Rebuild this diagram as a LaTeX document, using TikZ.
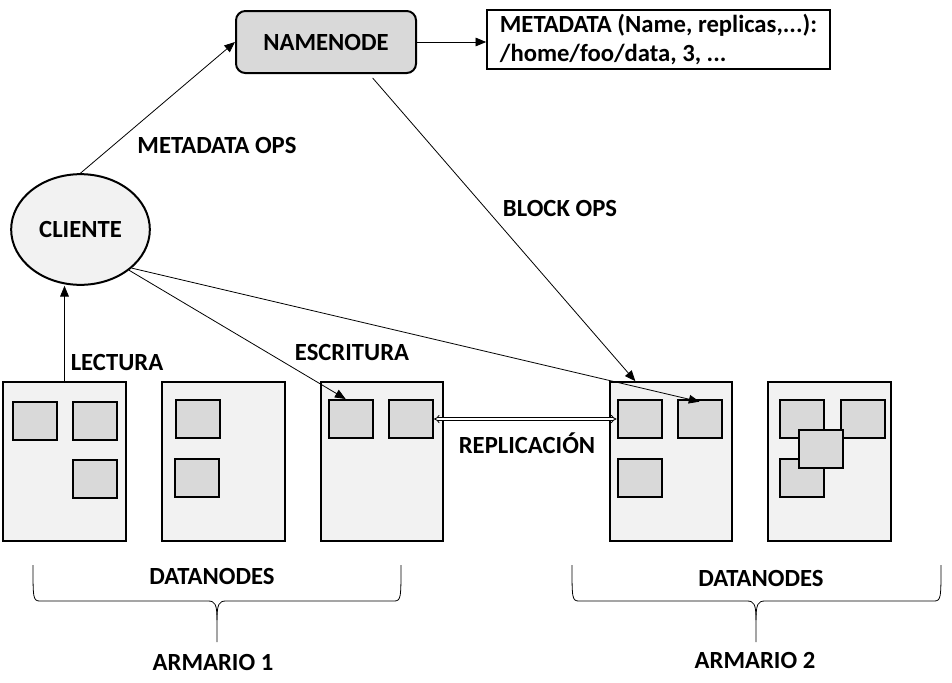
\documentclass[tikz,border=0pt]{standalone}
\usepackage{fontspec}
\setmainfont{Carlito}
\usetikzlibrary{shapes.geometric,arrows.meta}
\definecolor{grisclair}{HTML}{F2F2F2}
\definecolor{grisfonce}{HTML}{D9D9D9}
\frenchspacing
\begin{document}
\begin{tikzpicture}[x=0.75pt,y=-0.75pt,font=\fontsize{18.5}{21.75}\selectfont\bfseries]
		\tikzstyle{fleche}=[-{Triangle[length=8pt,width=6.5pt]},line width=0.6pt]
		\tikzstyle{datanode}=[draw,line width=1.5pt,fill=grisclair,minimum width=92pt,minimum height=119pt]
		\tikzstyle{bloc}=[draw,line width=1.5pt,fill=grisfonce,minimum width=33pt,minimum height=28.5pt]
		\useasboundingbox (0,0) rectangle (952,682);
		\node[draw,line width=1.5pt,rounded corners=7pt,fill=grisfonce,minimum width=135pt,minimum height=46.5pt] (namenode) at (326,42) {NAMENODE};
		\node[draw,line width=1.5pt,minimum width=257pt,minimum height=42.75pt,align=left] (meta) at (658.5,39.5) {METADATA (Name, replicas,...):\\/home/foo/data, 3, ...};
		\node[ellipse,draw,line width=1.5pt,fill=grisclair,minimum width=104pt,minimum height=83pt] (cliente) at (80.5,229.5) {CLIENTE};
		% armario 1
		\node[datanode] (dn1) at (64.5,461.5) {};
		\node[datanode] (dn2) at (223.5,461.5) {};
		\node[datanode] (dn3) at (382,461.5) {};
		% armario 2
		\node[datanode] (dn4) at (671,461.5) {};
		\node[datanode] (dn5) at (829.5,461.5) {};
		% bloques
		\node[bloc] (b11) at (35,421) {};
		\node[bloc] (b12) at (95,421) {};
		\node[bloc] (b13) at (94.5,479) {};
		\node[bloc] (b21) at (198,419) {};
		\node[bloc] (b22) at (197,477.5) {};
		\node[bloc] (b31) at (351,419) {};
		\node[bloc] (b32) at (411,419) {};
		\node[bloc] (b41) at (639.5,419) {};
		\node[bloc] (b42) at (699.5,419) {};
		\node[bloc] (b43) at (639.5,477.5) {};
		\node[bloc] (b51) at (802,419) {};
		\node[bloc] (b52) at (863,419) {};
		\node[bloc] (b53) at (802,477.5) {};
		\node[bloc] (b54) at (821,448.5) {};  % encima
		% conexiones
		\draw[fleche] (cliente.north) -- (namenode.west);
		\draw[fleche] (namenode.east) -- (namenode.east -| meta.west);
		\draw[fleche] ([xshift=35pt,yshift=-3pt]namenode.south) -- ([xshift=20pt]dn4.north west);
		\draw[fleche] (dn1.north) -- (dn1.north |- cliente.south);
		\draw[fleche] (cliente.-40) -- ([xshift=-4pt]b31.north);
		\draw[fleche] (cliente.-37) -- ([yshift=-2pt]b42.north);
		\draw[{Implies}-{Implies},double,double distance=1.5pt,line width=0.6pt] (b32.east) -- (b41.west);
		% textos
		\node (metaops) at (217,145) {METADATA OPS};
		\node (blockops) at (560,208) {BLOCK OPS};
		\node (lectura) at (117,362) {LECTURA};
		\node (escritura) at (352,352) {ESCRITURA};
		\node (replica) at (527,443) {REPLICACIÓN};
		\node (dnodes1) at (212,576) {DATANODES};
		\node (dnodes2) at (761,578) {DATANODES};
		\node (armario1) at (213,662) {ARMARIO 1};
		\node (armario2) at (755,660) {ARMARIO 2};
		% llaves
		\foreach \g/\d/\m in {33/401/217,572/941/756}{
			\draw[line width=0.6pt] (\g,565) .. controls (\g,598) and (\g,601) .. (\g+7,601) -- (\m-9,601) .. controls (\m-2,601) and (\m,604) .. (\m,620) -- (\m,642);
			\draw[line width=0.6pt] (\d,565) .. controls (\d,598) and (\d,601) .. (\d-7,601) -- (\m+9,601) .. controls (\m+2,601) and (\m,604) .. (\m,620);
		}
	\end{tikzpicture}
\end{document}
